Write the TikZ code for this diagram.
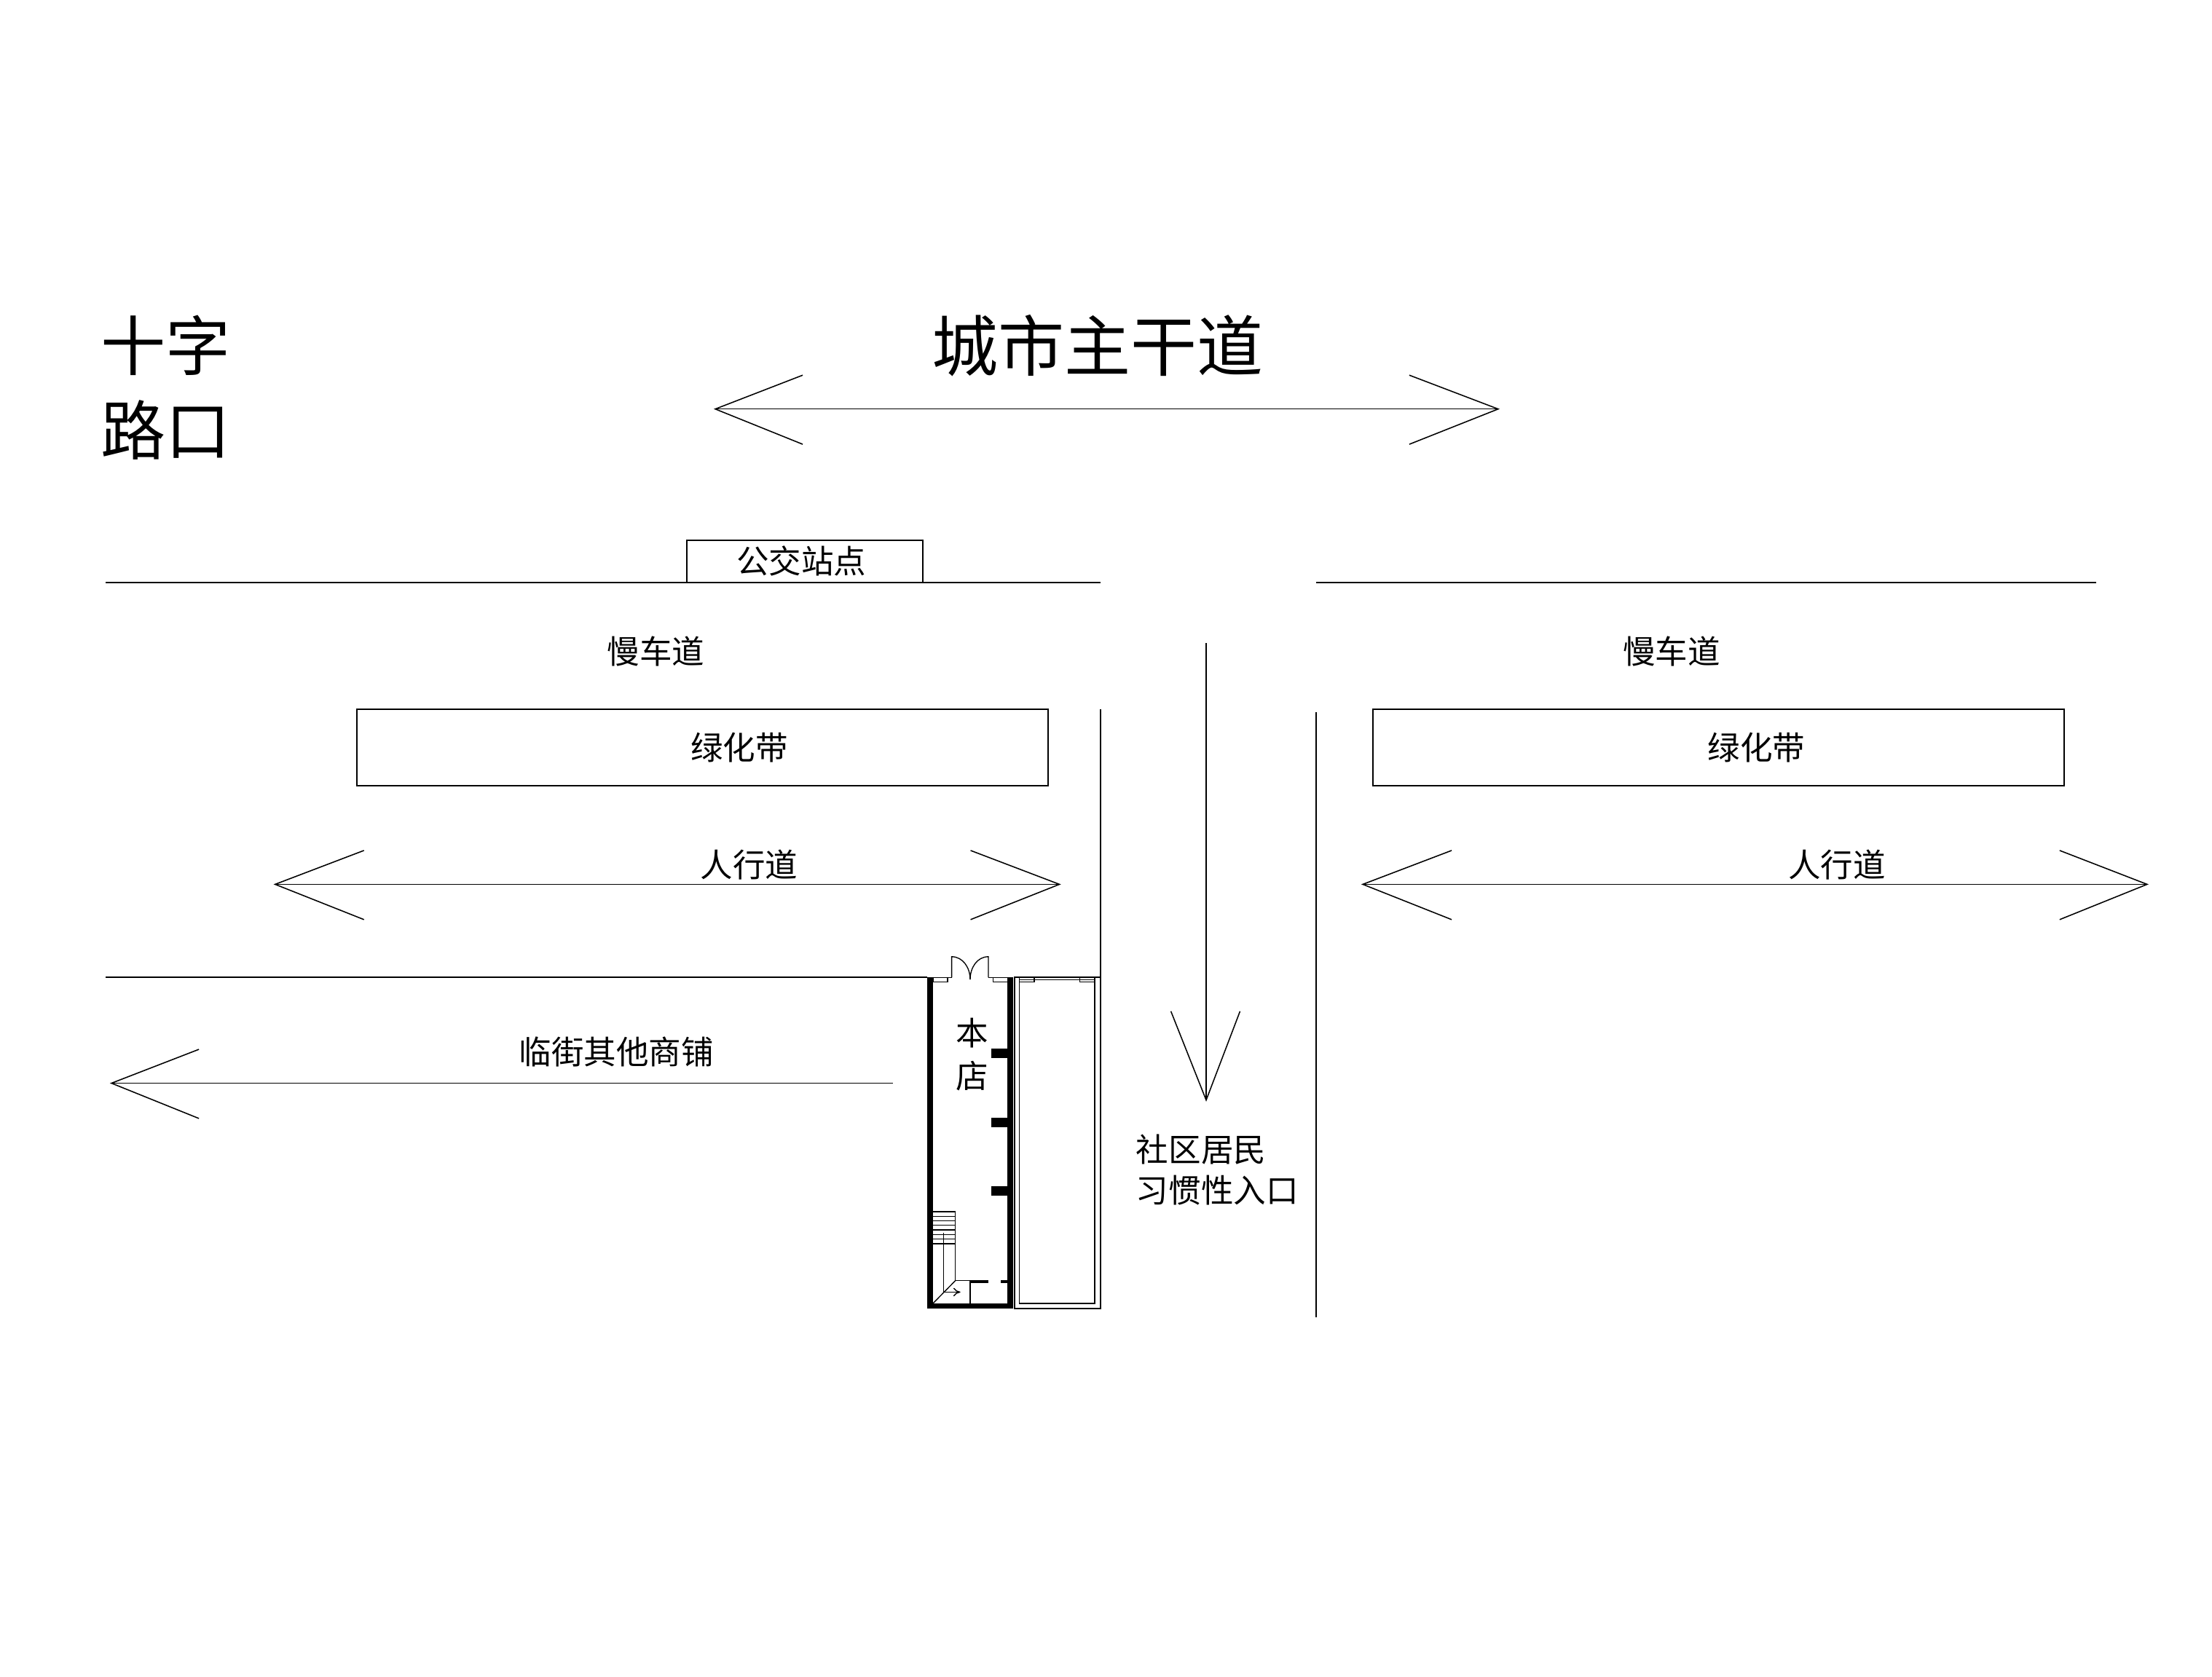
\documentclass[tikz,border=0pt]{standalone}
\usepackage{fontspec}
\setmainfont{Noto Sans CJK SC}
\usetikzlibrary{arrows.meta}
\begin{document}
\begin{tikzpicture}[x=0.5pt,y=-0.5pt,
  road/.style={line width=0.5pt,black},
  arr/.style={line width=0.4pt,black},
  lbl/.style={inner sep=0pt,font=\fontsize{11.5}{14}\selectfont},
  big/.style={inner sep=0pt,font=\fontsize{23}{27}\selectfont},
  wall/.style={fill=black},
  thinw/.style={line width=0.35pt,black}]
\useasboundingbox (0,0) rectangle (1568,1189);
\fill[white] (0,0) rectangle (1568,1189);

% titles
\node[big,anchor=west] (shizi) at (71,245) {十字};
\node[big,anchor=west] (lukou) at (71,305) {路口};
\node[big,font=\fontsize{23.5}{27}\selectfont] (zhugan) at (778,245) {城市主干道};

% main road arrow
\draw[arr] (507,290) -- (1062,290);
\draw[arr] (569,266) -- (507,290) -- (569,315);
\draw[arr] (999,266) -- (1062,290) -- (999,315);

% bus stop and road edges
\draw[road] (487,413) -- (487,383) -- (654,383) -- (654,413);
\node[lbl] (bus) at (568,398) {公交站点};
\draw[road] (75,413) -- (780,413);
\draw[road] (933,413) -- (1486,413);

% slow lanes
\node[lbl] (man1) at (465,462) {慢车道};
\node[lbl] (man2) at (1185,462) {慢车道};

% green belts
\draw[road] (253,503) rectangle (743,557);
\node[lbl] (lv1) at (524,530) {绿化带};
\draw[road] (973,503) rectangle (1463,557);
\node[lbl] (lv2) at (1245,530) {绿化带};

% side road lines
\draw[road] (780,503) -- (780,693);
\draw[road] (933,505) -- (933,934);

% entrance arrow
\draw[arr] (855,456) -- (855,780);
\draw[arr] (830,717) -- (855,780) -- (879,717);
\node[lbl,anchor=west,align=left] (ent1) at (805,815) {社区居民};
\node[lbl,anchor=west,align=left] (ent2) at (805,844) {习惯性入口};

% pedestrian arrows
\draw[arr] (195,627) -- (751,627);
\draw[arr] (258,603) -- (195,627) -- (258,652);
\draw[arr] (688,603) -- (751,627) -- (688,652);
\node[lbl] (ren1) at (531,613) {人行道};
\draw[arr] (966,627) -- (1522,627);
\draw[arr] (1029,603) -- (966,627) -- (1029,652);
\draw[arr] (1460,603) -- (1522,627) -- (1460,652);
\node[lbl] (ren2) at (1302,613) {人行道};

% street line and shops arrow
\draw[road] (75,693) -- (657,693);
\node[lbl] (linjie) at (437,746) {临街其他商铺};
\draw[arr] (79,768) -- (633,768);
\draw[arr] (141,744) -- (79,768) -- (141,793);

% ===== shop (本店) =====
\fill[wall] (657,693) rectangle (661.3,928);
\fill[wall] (714.2,693) rectangle (718.2,928);
\fill[wall] (657,924.2) rectangle (718.2,928);
% columns
\fill[wall] (702.7,743.5) rectangle (714.2,750.3);
\fill[wall] (702.7,792.5) rectangle (714.2,799);
\fill[wall] (702.7,840.8) rectangle (714.2,848);
% windows
\draw[thinw] (661.3,693) rectangle (671.7,696.2);
\draw[thinw] (704.1,693) rectangle (714.2,696.2);
\draw[thinw] (671.7,693) -- (674.6,693);
\draw[thinw] (700.6,693) -- (704.1,693);
% double door
\draw[thinw] (674.6,693) -- (674.6,678.3) .. controls (682.5,678.3) and (687.7,686) .. (687.7,694.5);
\draw[thinw] (700.6,693) -- (700.6,678.3) .. controls (692.7,678.3) and (687.7,686) .. (687.7,694.5);
\node[lbl] (ben) at (689,732.5) {本};
\node[lbl] (dian) at (689,763) {店};
% stairs
\draw[thinw] (661.3,859.1) -- (677.2,859.1) -- (677.2,908) -- (687.7,908) -- (687.7,924.2);
\foreach \k in {1,...,7} \draw[thinw] (661.3,859.1+3.24*\k) -- (677.2,859.1+3.24*\k);
\draw[thinw] (661.3,924.2) -- (677.2,908);
\draw[thinw,-{To[length=2.5pt,width=3pt]}] (668.7,874) -- (668.7,916.1) -- (680.8,916.1);
\fill[wall] (687.7,907.4) rectangle (700.6,909.9);
\fill[wall] (709.6,907.4) rectangle (714.2,909.9);

% ===== neighbour shop =====
\draw[road] (719.1,693) rectangle (780,928);
\draw[thinw] (722.5,694.8) rectangle (776,924.2);
\draw[thinw] (722.5,693) rectangle (733.1,696.2);
\draw[thinw] (765.5,693) rectangle (776,696.2);
\end{tikzpicture}
\end{document}
